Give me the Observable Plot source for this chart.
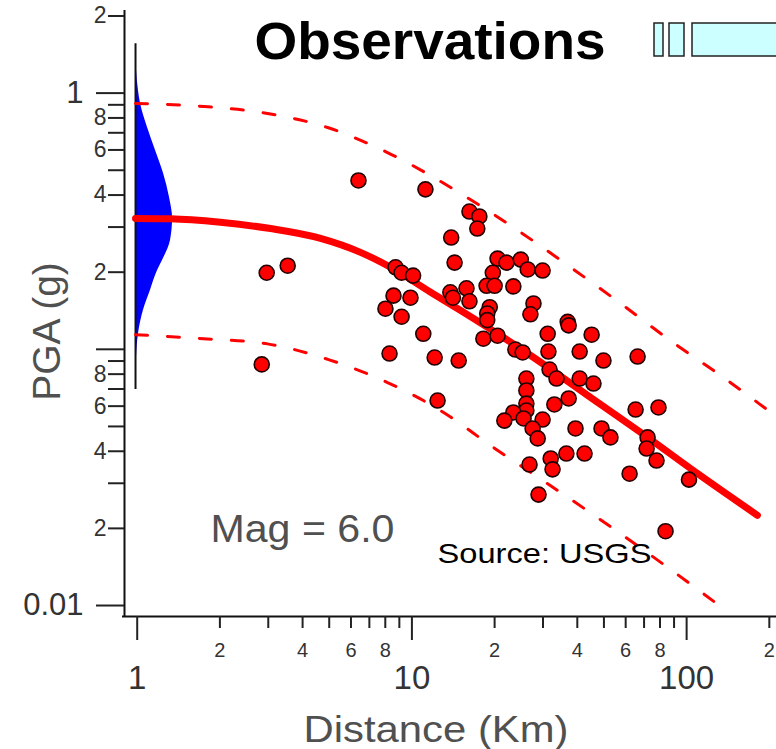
<!DOCTYPE html>
<html><head><meta charset="utf-8">
<script src="https://cdn.jsdelivr.net/npm/d3@7"></script>
<script src="https://cdn.jsdelivr.net/npm/@observablehq/plot@0.6"></script>
<style>
body{margin:0;background:#fff}
svg{display:block}
</style>
</head><body><div id="chart"></div>
<script>
// Observations (distance km, PGA g)
const obsDistance = [2.84,2.96,3.53,6.39,11.2,8.72,9.17,10.1,8.57,9.88,8.01,9.17,11.0,8.29,12.1,14.8,12.4,16.2,17.6,17.3,13.9,14.3,20.5,22.1,24.9,26.4,29.9,19.7,18.7,20.0,23.4,15.8,13.8,14.1,16.2,27.7,27.0,19.2,18.8,18.8,36.9,37.2,31.2,45.1,18.2,20.5,23.8,25.3,31.4,40.8,49.8,66.3,31.7,33.6,40.8,45.8,26.1,26.1,37.2,33.0,26.1,26.1,23.4,21.7,25.5,29.9,27.5,28.7,39.4,49.0,52.8,65.2,79.0,72.1,71.5,77.7,32.0,32.5,36.5,42.5,26.8,62.0,28.9,102,83.8];
const obsPGA = [0.0873,0.199,0.212,0.456,0.421,0.209,0.199,0.194,0.162,0.159,0.144,0.134,0.115,0.0963,0.0929,0.0904,0.0631,0.345,0.330,0.296,0.273,0.218,0.226,0.218,0.224,0.205,0.203,0.199,0.177,0.177,0.176,0.173,0.167,0.159,0.154,0.151,0.137,0.146,0.138,0.130,0.128,0.124,0.115,0.114,0.110,0.113,0.0998,0.0972,0.0980,0.0980,0.0904,0.0937,0.0834,0.0769,0.0769,0.0735,0.0769,0.0691,0.0643,0.0609,0.0614,0.0577,0.0567,0.0527,0.0537,0.0532,0.0491,0.0449,0.0491,0.0491,0.0453,0.0582,0.0593,0.0453,0.0410,0.0368,0.0375,0.0340,0.0392,0.0392,0.0355,0.0327,0.0271,0.0310,0.0195];

// Median prediction curve
const medianDistance = [0.986,1.32,2.01,3.06,4.65,6.50,8.36,11.7,15.0,26.4,48.6,68.0,112,181];
const medianPGA = [0.324,0.323,0.313,0.296,0.271,0.239,0.209,0.167,0.142,0.0963,0.0609,0.0474,0.0322,0.0225];
// Upper / lower bounds
const upperDistance = [0.986,1.74,2.98,4.93,8.15,15.9,24.9,37.8,57.5,87.4,133,212];
const upperPGA = [0.911,0.887,0.833,0.734,0.586,0.391,0.286,0.209,0.151,0.108,0.079,0.0547];
const lowerDistance = [0.986,1.74,2.98,4.97,8.15,12.7,19.8,29.9,46.6,108,133];
const lowerPGA = [0.114,0.110,0.105,0.0912,0.0742,0.0577,0.0414,0.0308,0.0223,0.0117,0.0099];
// Distribution at distance ~1 km
const densityBase = 0.986;
const densityPGA = [1.56,1.23,1.02,0.911,0.734,0.597,0.486,0.391,0.324,0.266,0.222,0.203,0.170,0.142,0.115,0.0929,0.0697];
const densityEdge = [0.986,0.994,1.011,1.028,1.090,1.166,1.247,1.311,1.345,1.322,1.236,1.186,1.118,1.054,1.011,0.994,0.986];

// Axes
const xDomain = [0.899, 212.4];
const yDomain = [0.00906, 2.101];
const xMajorTicks = [1, 10, 100];
const xMajorLabels = ["1", "10", "100"];
const xMinorTicks = [2,3,4,5,6,7,8,9,20,30,40,50,60,70,80,90,200];
const xMinorLabels = ["2","","4","","6","","8","","2","","4","","6","","8","","2"];
const yMajorTicks = [0.01, 0.1, 1];
const yMajorLabels = ["0.01", "", "1"];
const yMinorTicks = [0.02,0.03,0.04,0.05,0.06,0.07,0.08,0.09,0.2,0.3,0.4,0.5,0.6,0.7,0.8,0.9,2];
const yMinorLabels = ["2","","4","","6","","8","","2","","4","","6","","8","","2"];

const titleText = "Observations";
const magText = "Mag = 6.0";
const sourceText = "Source: USGS";
const xLabel = "Distance (Km)";
const yLabel = "PGA (g)";

const obs = obsDistance.map((d, i) => ({d, pga: obsPGA[i]}));
const median = medianDistance.map((d, i) => ({d, pga: medianPGA[i]}));
const upper = upperDistance.map((d, i) => ({d, pga: upperPGA[i]}));
const lower = lowerDistance.map((d, i) => ({d, pga: lowerPGA[i]}));
const density = densityPGA.map((pga, i) => ({pga, edge: densityEdge[i]}));
const xMinorLab = xMinorTicks.map((v, i) => ({v, t: xMinorLabels[i]})).filter(o => o.t);
const yMinorLab = yMinorTicks.map((v, i) => ({v, t: yMinorLabels[i]})).filter(o => o.t);
const yMajorLab = yMajorTicks.map((v, i) => ({v, t: yMajorLabels[i]})).filter(o => o.t);
const xMajorLab = xMajorTicks.map((v, i) => ({v, t: xMajorLabels[i]}));

const tickColor = "#222";
const labelColor = "#333";
const noLabel = () => "";

const chart = Plot.plot({
  width: 776, height: 749,
  marginLeft: 124, marginRight: 0, marginTop: 10, marginBottom: 133,
  style: {fontFamily: "'Liberation Sans', Arial, sans-serif", background: "#fff", overflow: "visible"},
  x: {type: "log", domain: xDomain, axis: null},
  y: {type: "log", domain: yDomain, axis: null},
  marks: [
    Plot.areaX(density, {y: "pga", x1: densityBase, x2: "edge", fill: "#0000ff", curve: "monotone-y"}),
    Plot.ruleX([densityBase], {y1: d3.min(densityPGA), y2: d3.max(densityPGA), stroke: "#111", strokeWidth: 2}),
    Plot.line(upper, {x: "d", y: "pga", stroke: "#ff0000", strokeWidth: 3, strokeDasharray: "12,20", curve: "monotone-x", clip: true}),
    Plot.line(lower, {x: "d", y: "pga", stroke: "#ff0000", strokeWidth: 3, strokeDasharray: "12,20", curve: "monotone-x", clip: true}),
    Plot.line(median, {x: "d", y: "pga", stroke: "#ff0000", strokeWidth: 7, curve: "monotone-x", clip: true}),
    Plot.dot(obs, {x: "d", y: "pga", r: 7.5, fill: "#ff0000", stroke: "#220000", strokeWidth: 1.6}),
    Plot.ruleX([xDomain[0]], {stroke: "#111", strokeWidth: 2}),
    Plot.ruleY([yDomain[0]], {stroke: "#111", strokeWidth: 2, insetLeft: -2}),
    // tick marks (labels drawn separately)
    Plot.axisY(yMajorTicks, {anchor: "left", tickSize: 28, tickFormat: noLabel, label: null, color: tickColor, strokeWidth: 2}),
    Plot.axisY(yMinorTicks, {anchor: "left", tickSize: 16, tickFormat: noLabel, label: null, color: tickColor, strokeWidth: 2}),
    Plot.axisX(xMajorTicks, {anchor: "bottom", tickSize: 24, tickFormat: noLabel, label: null, color: tickColor, strokeWidth: 2}),
    Plot.axisX(xMinorTicks, {anchor: "bottom", tickSize: 12, tickFormat: noLabel, label: null, color: tickColor, strokeWidth: 2}),
    // tick labels
    Plot.text(yMajorLab, {y: "v", text: "t", frameAnchor: "left", dx: -41, textAnchor: "end", lineAnchor: "middle", fontSize: 31, fill: labelColor}),
    Plot.text(yMinorLab, {y: "v", text: "t", frameAnchor: "left", dx: -18, textAnchor: "end", lineAnchor: "middle", fontSize: 23, fill: labelColor}),
    Plot.text(xMajorLab, {x: "v", text: "t", frameAnchor: "bottom", dy: 49, textAnchor: "middle", lineAnchor: "top", fontSize: 33, fill: labelColor}),
    Plot.text(xMinorLab, {x: "v", text: "t", frameAnchor: "bottom", dy: 26, textAnchor: "middle", lineAnchor: "top", fontSize: 20, fill: labelColor}),
    // annotations
    Plot.text([titleText], {frameAnchor: "top-left", dx: 130, dy: 31.7, textAnchor: "start", lineAnchor: "middle", fontSize: 51, fontWeight: "bold", fill: "#000", className: "t-title"}),
    Plot.text([magText], {frameAnchor: "top-left", dx: 86, dy: 519.8, textAnchor: "start", lineAnchor: "middle", fontSize: 38, fill: "#505050", className: "t-mag"}),
    Plot.text([sourceText], {frameAnchor: "top-left", dx: 313, dy: 544, textAnchor: "start", lineAnchor: "middle", fontSize: 28, fill: "#000", className: "t-src"}),
    Plot.text([xLabel], {frameAnchor: "top-left", dx: 179, dy: 719.5, textAnchor: "start", lineAnchor: "middle", fontSize: 36, fill: "#505050", className: "t-xlab"}),
    Plot.text([yLabel], {frameAnchor: "top-left", dx: -77, dy: 321, textAnchor: "middle", lineAnchor: "middle", rotate: -90, fontSize: 39, fill: "#505050", className: "t-ylab"})
  ]
});

const svg = d3.select(chart);
const fit = (cls, len) => svg.selectAll(`g.${cls} text`).attr("textLength", len).attr("lengthAdjust", "spacingAndGlyphs");
fit("t-title", 351); fit("t-mag", 184); fit("t-src", 214); fit("t-xlab", 265);
// decorative boxes (partial legend at top right)
const boxes = [[654, 9], [669, 15], [692, 90]];
svg.append("g").selectAll("rect").data(boxes).join("rect")
  .attr("x", b => b[0]).attr("y", 23).attr("width", b => b[1]).attr("height", 33)
  .attr("fill", "#ccffff").attr("stroke", "#222").attr("stroke-width", 1.5);

document.getElementById("chart").appendChild(chart);
</script>
</body></html>
